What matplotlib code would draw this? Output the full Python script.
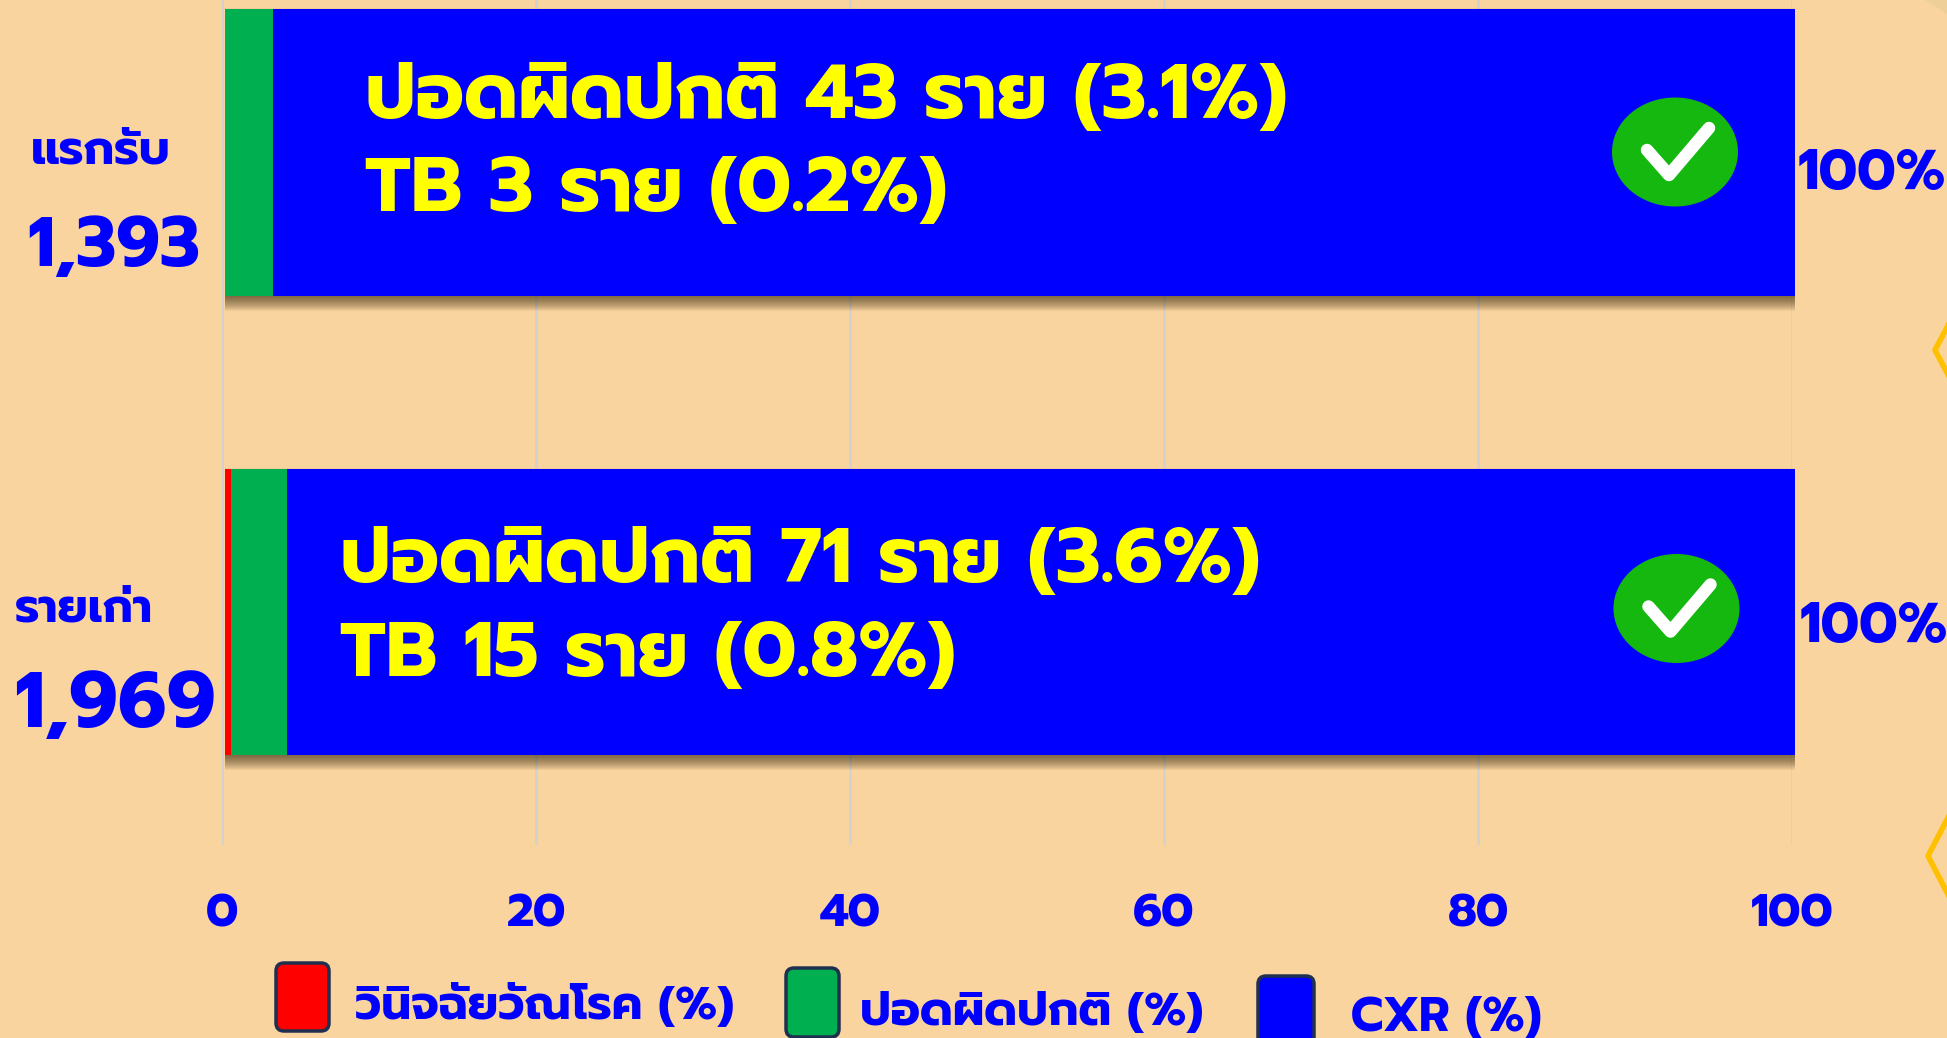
import matplotlib
matplotlib.use('Agg')
import numpy as np
import matplotlib.pyplot as plt
import matplotlib.patches as mpatches
from matplotlib.transforms import Affine2D

W, H = 1947, 1038
BG = '#FAD49F'
BLUE = '#0000FF'
YELLOW = '#FFFF00'
plt.rcParams['font.family'] = ['Prompt', 'DejaVu Sans']
plt.rcParams['font.weight'] = 700

# data
groups = ['แรกรับ', 'รายเก่า']
totals = ['1,393', '1,969']
tb_pct = [0, 0.37]
abnormal_pct = [3.1, 3.6]
cxr_pct = [100, 100]
cxr_labels = ['100%', '100%']
notes = [['ปอดผิดปกติ 43 ราย (3.1%)', 'TB 3 ราย (0.2%)'],
         ['ปอดผิดปกติ 71 ราย (3.6%)', 'TB 15 ราย (0.8%)']]
xticks = [0, 20, 40, 60, 80, 100]
legend_names = ['วินิจฉัยวัณโรค (%)', 'ปอดผิดปกติ (%)', 'CXR (%)']


def axes_px(x0, y0, x1, y1):
    return fig.add_axes([x0/W, 1-y1/H, (x1-x0)/W, (y1-y0)/H])


def px_text(x, y, s, size, color=BLUE):
    # x, y = left end and baseline, in pixels from the top left
    return fig.text(x/W, 1-y/H, s, fontsize=size, color=color, ha='left', va='baseline', zorder=5)


fig = plt.figure(figsize=(W/100, H/100), dpi=100, facecolor=BG)

# grid axes sits a few pixels left of the bars, as in the original
ax_grid = axes_px(222, 0, 1792, 845)
ax_grid.set_facecolor('none')
ax_grid.set_xlim(0, 100)
ax_grid.set_ylim(0, 1)
ax_grid.set_yticks([])
ax_grid.set_xticks(xticks)
ax_grid.set_xticklabels(xticks, fontsize=33.5, color=BLUE)
ax_grid.tick_params(axis='x', length=0, pad=34.5)
ax_grid.grid(axis='x', color='#D3D2CE', lw=2)
for s in ax_grid.spines.values():
    s.set_visible(False)

# bars
ax = axes_px(224.7, 0, 1794.7, 845)
ax.patch.set_visible(False)
ax.set_xlim(0, 100)
ax.set_ylim(1.507, -0.3326)
ax.axis('off')
y = np.arange(len(groups))
bar_h = 0.624
tb = np.array(tb_pct)
ab = np.array(abnormal_pct)

# soft shadow under the bars
for k in range(1, 18):
    for yi in y:
        ax.add_patch(mpatches.Rectangle((0, yi-bar_h/2), cxr_pct[yi], bar_h, fc='#3A2A10', ec='none', alpha=0.06,
                                        zorder=1, clip_on=False,
                                        transform=ax.transData + Affine2D().translate(0, 2-k)))

ax.barh(y, cxr_pct, bar_h, left=tb+ab, color=BLUE, zorder=2)
ax.barh(y, ab, bar_h, left=tb, color='#00B050', zorder=3)
ax.barh(y, tb, bar_h, color='#FF0000', zorder=3)

# texts inside the bars
note_x = [365, 340]
note_y = [(118, 211), (582, 676)]
for i in range(2):
    px_text(note_x[i], note_y[i][0], notes[i][0], 55.8, YELLOW)
    px_text(note_x[i], note_y[i][1], notes[i][1], 55.8, YELLOW)

# left and right labels
px_text(31, 163, groups[0], 34)
px_text(27, 266, totals[0], 50.2)
px_text(15, 621, groups[1], 33.5)
px_text(14, 727, totals[1], 56)
px_text(1798, 189, cxr_labels[0], 40)
px_text(1800, 642, cxr_labels[1], 40)

# check marks, legend boxes and the cut off shapes at the right edge
ov = fig.add_axes([0, 0, 1, 1])
ov.set_xlim(0, W)
ov.set_ylim(H, 0)
ov.axis('off')
ov.patch.set_visible(False)
for cx, cy in [(1675, 152), (1676.5, 608.5)]:
    ov.add_patch(mpatches.Ellipse((cx, cy), 126, 109, fc='#14B80E', ec='none'))
    ov.plot([cx-28, cx-6, cx+34], [cy-2, cy+23, cy-24], color='white', lw=9,
            solid_capstyle='round', solid_joinstyle='round')

boxes = [(276, 963, 53, 68, '#FF0000'), (786, 968, 53, 69, '#00B050'), (1258, 976, 56, 80, BLUE)]
for bx, by, bw, bh, c in boxes:
    ov.add_patch(mpatches.FancyBboxPatch((bx+6, by+6), bw-12, bh-12, boxstyle='round,pad=6,rounding_size=8',
                                         fc=c, ec='#1F2F50', lw=2.5))
px_text(355, 1019, legend_names[0], 33.7)
px_text(860, 1025, legend_names[1], 33.9)
px_text(1351, 1031, legend_names[2], 34)

ov.plot([1953, 1935, 1953], [316, 350, 384], color='#FFC000', lw=4)
ov.plot([1953, 1928, 1953], [808, 856, 904], color='#FFC000', lw=4)
ov.add_patch(mpatches.Polygon([(1925, 0), (1947, 0), (1947, 14)], fc='#EFCF98', ec='none'))

fig.savefig('out.png', dpi=100, facecolor=BG)
